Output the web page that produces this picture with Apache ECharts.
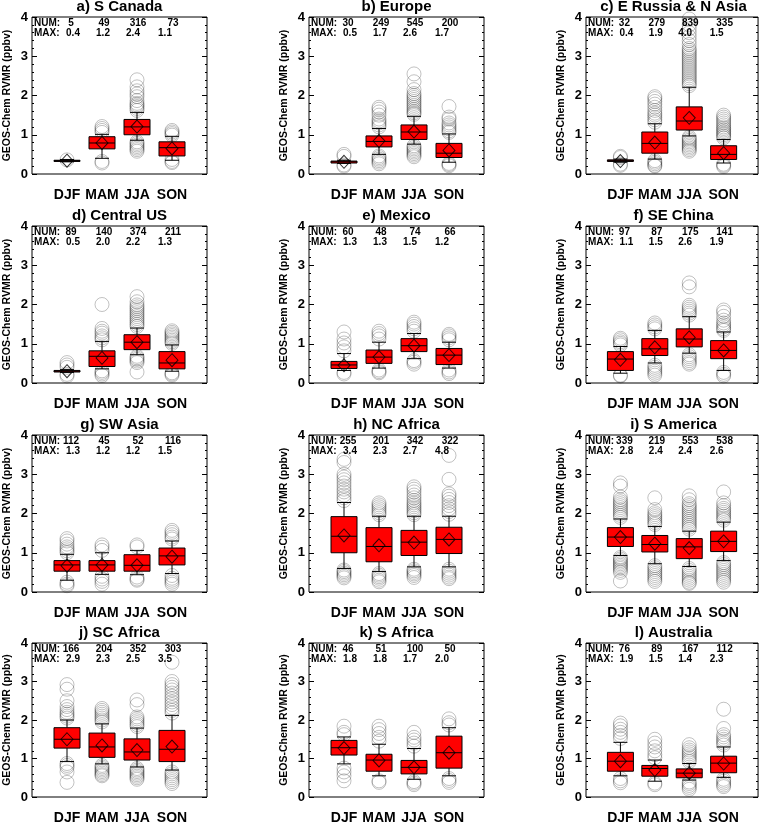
<!DOCTYPE html>
<html><head><meta charset="utf-8">
<script src="https://cdn.jsdelivr.net/npm/echarts@6/dist/echarts.min.js"></script>
<style>html,body{margin:0;padding:0;background:#fff}#c{width:763px;height:825px}</style>
</head><body><div id="c"></div><script>
const FONT = '"Liberation Sans", Arial, Helvetica, sans-serif';

const regions = ['a) S Canada', 'b) Europe', 'c) E Russia & N Asia', 'd) Central US', 'e) Mexico', 'f) SE China',
  'g) SW Asia', 'h) NC Africa', 'i) S America', 'j) SC Africa', 'k) S Africa', 'l) Australia'];
const seasons = ['DJF', 'MAM', 'JJA', 'SON'];
const yTicks = [0, 1, 2, 3, 4];
const yName = 'GEOS-Chem RVMR (ppbv)';

const numObs = [[5, 49, 316, 73], [30, 249, 545, 200], [32, 279, 839, 335], [89, 140, 374, 211],
  [60, 48, 74, 66], [97, 87, 175, 141], [112, 45, 52, 116], [255, 201, 342, 322],
  [339, 219, 553, 538], [166, 204, 352, 303], [46, 51, 100, 50], [76, 89, 167, 112]];
const maxObs = [[0.4, 1.2, 2.4, 1.1], [0.5, 1.7, 2.6, 1.7], [0.4, 1.9, 4.0, 1.5], [0.5, 2.0, 2.2, 1.3],
  [1.3, 1.3, 1.5, 1.2], [1.1, 1.5, 2.6, 1.9], [1.3, 1.2, 1.2, 1.5], [3.4, 2.3, 2.7, 4.8],
  [2.8, 2.4, 2.4, 2.6], [2.9, 2.3, 2.5, 3.5], [1.8, 1.8, 1.7, 2.0], [1.9, 1.5, 1.4, 2.3]];

// per season: [whiskerLow, Q1, median, Q3, whiskerHigh, mean]
const box_a = [[0.31, 0.32, 0.34, 0.35, 0.37, 0.34], [0.40, 0.64, 0.79, 0.95, 1.01, 0.79], [0.86, 1.00, 1.20, 1.39, 1.57, 1.21], [0.35, 0.46, 0.67, 0.82, 0.96, 0.65]];
const box_b = [[0.27, 0.28, 0.31, 0.33, 0.35, 0.31], [0.50, 0.69, 0.83, 0.97, 1.16, 0.84], [0.76, 0.88, 1.07, 1.25, 1.47, 1.08], [0.30, 0.42, 0.53, 0.78, 1.02, 0.60]];
const box_c = [[0.30, 0.32, 0.34, 0.36, 0.38, 0.33], [0.38, 0.53, 0.78, 1.07, 1.28, 0.80], [0.97, 1.12, 1.35, 1.71, 2.21, 1.43], [0.28, 0.37, 0.50, 0.72, 0.88, 0.53]];
const box_d = [[0.27, 0.28, 0.30, 0.32, 0.34, 0.30], [0.36, 0.42, 0.68, 0.82, 1.06, 0.64], [0.72, 0.85, 1.04, 1.23, 1.40, 1.04], [0.30, 0.36, 0.51, 0.80, 0.97, 0.58]];
const box_e = [[0.32, 0.37, 0.46, 0.55, 0.75, 0.45], [0.38, 0.50, 0.66, 0.84, 1.04, 0.66], [0.62, 0.80, 0.95, 1.13, 1.26, 0.95], [0.38, 0.47, 0.71, 0.88, 1.04, 0.71]];
const box_f = [[0.25, 0.32, 0.61, 0.80, 0.93, 0.59], [0.51, 0.70, 0.87, 1.13, 1.34, 0.91], [0.76, 0.92, 1.12, 1.38, 1.69, 1.16], [0.32, 0.62, 0.83, 1.08, 1.30, 0.83]];
const box_g = [[0.30, 0.53, 0.69, 0.80, 0.96, 0.67], [0.45, 0.53, 0.69, 0.80, 1.00, 0.69], [0.44, 0.53, 0.68, 0.95, 1.06, 0.68], [0.47, 0.69, 0.92, 1.12, 1.30, 0.90]];
const box_h = [[0.60, 1.00, 1.42, 1.92, 2.28, 1.44], [0.52, 0.77, 1.16, 1.64, 1.93, 1.19], [0.64, 0.93, 1.27, 1.57, 1.93, 1.26], [0.64, 0.98, 1.34, 1.65, 1.93, 1.34]];
const box_i = [[0.93, 1.16, 1.40, 1.64, 1.86, 1.40], [0.72, 1.02, 1.21, 1.44, 1.67, 1.23], [0.65, 0.85, 1.15, 1.36, 1.55, 1.12], [0.80, 1.03, 1.29, 1.55, 1.78, 1.29]];
const box_j = [[0.92, 1.27, 1.50, 1.80, 2.00, 1.50], [0.86, 1.03, 1.30, 1.66, 1.90, 1.34], [0.78, 0.96, 1.17, 1.51, 1.79, 1.22], [0.70, 0.92, 1.24, 1.73, 2.12, 1.31]];
const box_k = [[0.86, 1.09, 1.28, 1.47, 1.56, 1.27], [0.55, 0.67, 0.96, 1.11, 1.37, 0.95], [0.46, 0.60, 0.77, 0.95, 1.26, 0.77], [0.55, 0.75, 1.15, 1.58, 1.80, 1.15]];
const box_l = [[0.55, 0.67, 0.93, 1.16, 1.42, 0.93], [0.41, 0.54, 0.74, 0.82, 0.96, 0.70], [0.44, 0.50, 0.62, 0.73, 0.87, 0.62], [0.51, 0.63, 0.88, 1.06, 1.30, 0.87]];

// outliers per season
const out_a = [[0.36], [0.32, 0.28, 1.06, 1.11, 1.16, 1.21],
  [0.82, 0.78, 0.74, 0.70, 0.66, 0.62, 0.58, 1.62, 1.67, 1.72, 1.76, 1.80, 1.87, 1.97, 2.04, 2.12, 2.22, 2.40],
  [0.32, 0.29, 0.37, 0.99, 1.03, 1.07, 1.11]];
const out_b = [[0.20, 0.23, 0.45, 0.50], [0.46, 0.42, 0.38, 0.34, 0.30, 0.26, 1.20, 1.25, 1.30, 1.35, 1.40, 1.50, 1.58, 1.65, 1.70],
  [0.72, 0.68, 0.64, 0.60, 0.56, 0.52, 0.48, 0.44, 1.52, 1.56, 1.60, 1.65, 1.70, 1.75, 1.80, 1.85, 1.90, 1.95, 2.00, 2.05, 2.15, 2.35, 2.55],
  [0.27, 0.24, 0.21, 1.06, 1.10, 1.15, 1.20, 1.25, 1.30, 1.40, 1.45, 1.72]];
const out_c = [[0.25, 0.22, 0.45, 0.42], [0.34, 0.30, 0.26, 0.22, 0.20, 1.32, 1.38, 1.44, 1.50, 1.55, 1.62, 1.70, 1.78, 1.85, 1.92, 1.97],
  [0.94, 0.90, 0.86, 0.82, 0.78, 0.74, 0.70, 0.66, 0.62, 0.58, 2.25, 2.30, 2.35, 2.40, 2.45, 2.50, 2.55, 2.60, 2.65, 2.70, 2.75, 2.80, 2.85, 2.90, 2.95, 3.00, 3.05, 3.10, 3.15, 3.20, 3.30, 3.40, 3.50, 3.60, 3.70, 3.80, 3.95],
  [0.25, 0.22, 0.19, 0.92, 0.96, 1.00, 1.04, 1.08, 1.12, 1.16, 1.20, 1.25, 1.30, 1.35, 1.40, 1.45, 1.50]];
const out_d = [[0.52, 0.46, 0.40, 0.22, 0.18], [0.31, 0.27, 0.23, 0.19, 1.10, 1.15, 1.20, 1.27, 1.32, 1.39, 2.00],
  [0.68, 0.64, 0.60, 0.56, 0.52, 0.28, 1.44, 1.49, 1.54, 1.59, 1.64, 1.69, 1.74, 1.79, 1.84, 1.89, 1.94, 1.99, 2.07, 2.20],
  [0.26, 0.23, 0.20, 1.01, 1.05, 1.09, 1.13, 1.17, 1.21, 1.25, 1.29, 1.33]];
const out_e = [[0.27, 0.23, 0.82, 0.92, 1.02, 1.12, 1.30], [0.33, 0.29, 0.26, 1.12, 1.20, 1.26, 1.32],
  [0.57, 0.53, 0.48, 1.32, 1.38, 1.44, 1.50, 1.55], [0.33, 0.28, 0.24, 1.10, 1.15, 1.20, 1.24]];
const out_f = [[0.20, 0.18, 0.97, 1.01, 1.05, 1.10, 1.14], [0.45, 0.40, 0.35, 0.30, 0.25, 0.20, 1.38, 1.43, 1.48, 1.53],
  [0.72, 0.67, 0.62, 0.57, 0.52, 0.48, 1.73, 1.78, 1.83, 1.88, 1.93, 1.98, 2.45, 2.55],
  [0.27, 0.22, 0.18, 1.34, 1.38, 1.43, 1.48, 1.53, 1.60, 1.70, 1.80, 1.86]];
const out_g = [[0.25, 0.20, 0.16, 1.00, 1.05, 1.10, 1.15, 1.22, 1.30, 1.36], [0.40, 0.33, 0.27, 0.20, 1.06, 1.14, 1.20],
  [0.38, 0.33, 0.30, 1.15, 1.20], [0.42, 0.35, 0.30, 0.25, 0.20, 1.35, 1.40, 1.46, 1.52, 1.57]];
const out_h = [[0.56, 0.52, 0.48, 0.44, 0.40, 0.36, 2.33, 2.40, 2.47, 2.55, 2.62, 2.70, 2.78, 2.86, 2.93, 3.00, 3.30, 3.38],
  [0.47, 0.43, 0.39, 0.35, 0.30, 0.26, 1.97, 2.02, 2.07, 2.12, 2.17, 2.22, 2.27],
  [0.58, 0.54, 0.50, 0.46, 0.42, 0.37, 1.97, 2.02, 2.07, 2.12, 2.17, 2.22, 2.27, 2.33, 2.40, 2.47, 2.55, 2.62, 2.68],
  [0.58, 0.53, 0.48, 0.43, 0.38, 0.34, 1.98, 2.05, 2.12, 2.20, 2.28, 2.36, 2.44, 2.50, 2.87, 3.48]];
const out_i = [[0.88, 0.84, 0.80, 0.76, 0.72, 0.68, 0.64, 0.60, 0.55, 0.50, 0.28, 1.90, 1.95, 2.00, 2.05, 2.10, 2.15, 2.20, 2.25, 2.30, 2.35, 2.42, 2.70, 2.78],
  [0.67, 0.62, 0.57, 0.52, 0.47, 0.42, 0.37, 0.32, 0.27, 1.72, 1.77, 1.82, 1.87, 1.92, 1.97, 2.02, 2.10, 2.40],
  [0.60, 0.55, 0.50, 0.45, 0.40, 0.35, 0.30, 0.25, 0.22, 1.60, 1.65, 1.70, 1.75, 1.80, 1.85, 1.90, 1.95, 2.00, 2.05, 2.10, 2.15, 2.20, 2.25, 2.35, 2.45],
  [0.75, 0.70, 0.65, 0.60, 0.55, 0.50, 0.45, 0.40, 0.35, 0.30, 0.25, 1.83, 1.88, 1.93, 1.98, 2.03, 2.08, 2.13, 2.20, 2.27, 2.55]];
const out_j = [[0.87, 0.82, 0.77, 0.65, 0.38, 2.05, 2.10, 2.15, 2.20, 2.27, 2.35, 2.50, 2.80, 2.92],
  [0.82, 0.78, 0.74, 0.70, 0.66, 0.62, 0.58, 0.55, 1.95, 2.00, 2.05, 2.10, 2.15, 2.20, 2.25, 2.30],
  [0.74, 0.70, 0.66, 0.62, 0.58, 0.54, 0.50, 0.46, 1.83, 1.88, 1.93, 1.98, 2.03, 2.08, 2.40, 2.52],
  [0.65, 0.60, 0.55, 0.50, 0.45, 0.40, 0.35, 2.18, 2.25, 2.32, 2.40, 2.47, 2.55, 2.62, 2.70, 2.78, 2.85, 2.92, 3.00, 3.50]];
const out_k = [[0.75, 0.65, 0.55, 0.42, 1.62, 1.68, 1.84], [0.42, 0.38, 1.45, 1.55, 1.65, 1.75, 1.84],
  [0.40, 0.36, 0.32, 1.32, 1.40, 1.48, 1.55, 1.68], [0.48, 0.43, 0.38, 1.87, 1.93, 2.03]];
const out_l = [[0.48, 0.42, 0.37, 1.52, 1.60, 1.68, 1.76, 1.85, 1.92], [0.36, 0.32, 1.02, 1.10, 1.20, 1.30, 1.40, 1.50],
  [0.39, 0.35, 0.30, 0.25, 0.20, 0.92, 0.97, 1.02, 1.07, 1.12, 1.17, 1.22, 1.28, 1.36],
  [0.46, 0.41, 0.36, 0.31, 0.27, 1.35, 1.40, 1.45, 1.50, 1.56, 1.62, 1.78, 2.28]];

const boxes = [box_a, box_b, box_c, box_d, box_e, box_f, box_g, box_h, box_i, box_j, box_k, box_l];
const outs = [out_a, out_b, out_c, out_d, out_e, out_f, out_g, out_h, out_i, out_j, out_k, out_l];

// layout
const colLeft = [32, 309, 586], rowTop = [17, 226, 435, 643], W = 175, H = 157;
const xCats = [''].concat(seasons).concat([' ']);

const grid = [], xAxis = [], yAxis = [], series = [], title = [];

regions.forEach(function (name, i) {
  const col = i % 3, row = Math.floor(i / 3);
  const left = colLeft[col], top = rowTop[row];
  grid.push({ left: left, top: top, width: W, height: H, show: true, borderColor: '#000', borderWidth: 1, backgroundColor: 'transparent' });
  title.push({ text: name, left: left + W / 2, top: top - 10, textAlign: 'center', textVerticalAlign: 'middle', padding: 0,
    textStyle: { fontFamily: FONT, fontSize: 15, fontWeight: 'bold', color: '#000' } });
  xAxis.push({ gridIndex: i, type: 'category', data: xCats, boundaryGap: false,
    axisLine: { show: false }, axisTick: { show: false }, splitLine: { show: false },
    axisLabel: { interval: 0, margin: 14, fontFamily: FONT, fontSize: 14, fontWeight: 'bold', color: '#000' } });
  const yBase = { gridIndex: i, type: 'value', min: yTicks[0], max: yTicks[yTicks.length - 1], interval: 1,
    splitLine: { show: false }, axisLine: { show: false },
    axisTick: { show: true, inside: true, length: 5, lineStyle: { color: '#000' } },
    minorTick: { show: true, splitNumber: 5, length: 2, lineStyle: { color: '#000' } } };
  yAxis.push(Object.assign({}, yBase, { position: 'left',
    axisLabel: { margin: 4, fontFamily: FONT, fontSize: 13, fontWeight: 'bold', color: '#000' },
    name: yName, nameLocation: 'middle', nameGap: 19,
    nameTextStyle: { fontFamily: FONT, fontSize: 10.5, fontWeight: 'bold', color: '#000' } }));
  yAxis.push(Object.assign({}, yBase, { position: 'right', axisLabel: { show: false } }));

  const yi = i * 2;
  // outliers
  const od = [];
  outs[i].forEach(function (list, s) { list.forEach(function (v) { od.push([s + 1, v]); }); });
  series.push({ type: 'scatter', xAxisIndex: i, yAxisIndex: yi, data: od, symbol: 'circle', symbolSize: 14, z: 1, silent: true,
    itemStyle: { color: 'rgba(0,0,0,0)', borderColor: 'rgba(0,0,0,0.3)', borderWidth: 1 } });
  // boxes
  const bd = boxes[i].map(function (b, s) { return [s + 1, b[0], b[1], b[2], b[3], b[4]]; });
  series.push({ type: 'custom', xAxisIndex: i, yAxisIndex: yi, data: bd, z: 2, silent: true,
    renderItem: function (params, api) {
      const x = api.value(0);
      const lo = api.coord([x, api.value(1)]), q1 = api.coord([x, api.value(2)]), md = api.coord([x, api.value(3)]),
        q3 = api.coord([x, api.value(4)]), hi = api.coord([x, api.value(5)]);
      const cx = lo[0], bw = 26, cw = 14;
      const ls = { stroke: '#000', lineWidth: 1 };
      return { type: 'group', children: [
        { type: 'line', shape: { x1: cx, y1: lo[1], x2: cx, y2: q1[1] }, style: ls },
        { type: 'line', shape: { x1: cx, y1: q3[1], x2: cx, y2: hi[1] }, style: ls },
        { type: 'line', shape: { x1: cx - cw / 2, y1: lo[1], x2: cx + cw / 2, y2: lo[1] }, style: ls },
        { type: 'line', shape: { x1: cx - cw / 2, y1: hi[1], x2: cx + cw / 2, y2: hi[1] }, style: ls },
        { type: 'rect', shape: { x: cx - bw / 2, y: q3[1], width: bw, height: q1[1] - q3[1] }, style: { fill: '#ff0000', stroke: '#000', lineWidth: 1 } },
        { type: 'line', shape: { x1: cx - bw / 2, y1: md[1], x2: cx + bw / 2, y2: md[1] }, style: ls }
      ] };
    } });
  // means
  const mdta = boxes[i].map(function (b, s) { return [s + 1, b[5]]; });
  series.push({ type: 'scatter', xAxisIndex: i, yAxisIndex: yi, data: mdta, symbol: 'diamond', symbolSize: [12, 13], z: 3, silent: true,
    itemStyle: { color: 'rgba(0,0,0,0)', borderColor: '#000', borderWidth: 1 } });
  // NUM / MAX text
  const td = [];
  for (let s = 0; s < 4; s++) td.push([s + 1, numObs[i][s], maxObs[i][s]]);
  const numOff = [4, 2, 1, 1], maxOff = [6, 1, -4, -7];
  series.push({ type: 'custom', xAxisIndex: i, yAxisIndex: yi, data: td, z: 4, silent: true,
    renderItem: function (params, api) {
      const s = params.dataIndex;
      const p = api.coord([api.value(0), yTicks[yTicks.length - 1]]);
      const p0 = api.coord([0, yTicks[yTicks.length - 1]]);
      const font = 'bold 10px ' + FONT;
      const ch = [
        { type: 'text', x: p[0] + numOff[s], y: p[1] + 6, style: { text: String(api.value(1)), font: font, fill: '#000', textAlign: 'center', textVerticalAlign: 'middle' } },
        { type: 'text', x: p[0] + maxOff[s], y: p[1] + 16.5, style: { text: api.value(2).toFixed(1), font: font, fill: '#000', textAlign: 'center', textVerticalAlign: 'middle' } }
      ];
      if (s === 0) {
        ch.push({ type: 'text', x: p0[0] + 2, y: p[1] + 6, style: { text: 'NUM:', font: font, fill: '#000', textAlign: 'left', textVerticalAlign: 'middle' } });
        ch.push({ type: 'text', x: p0[0] + 2, y: p[1] + 16.5, style: { text: 'MAX:', font: font, fill: '#000', textAlign: 'left', textVerticalAlign: 'middle' } });
      }
      return { type: 'group', children: ch };
    } });
});

const chart = echarts.init(document.getElementById('c'), null, { renderer: 'canvas' });
chart.setOption({ animation: false, backgroundColor: '#fff', title: title, grid: grid, xAxis: xAxis, yAxis: yAxis, series: series });
</script></body></html>
